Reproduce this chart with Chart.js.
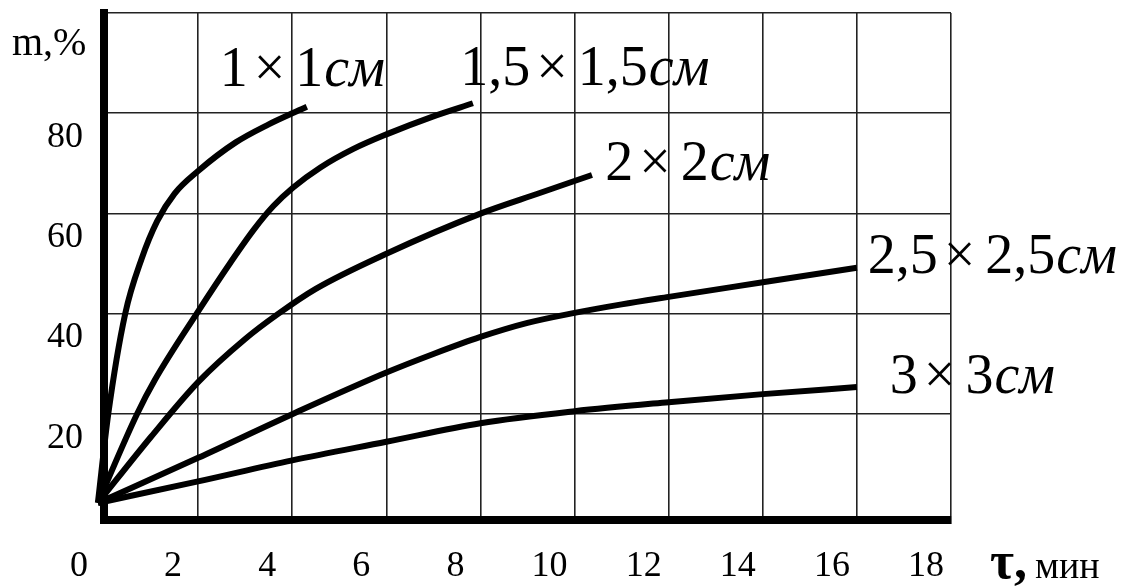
<!DOCTYPE html>
<html>
<head>
<meta charset="utf-8">
<script src="https://cdn.jsdelivr.net/npm/chart.js@4.4.1/dist/chart.umd.min.js"></script>
<style>
  html, body { margin: 0; padding: 0; background: #fff; }
  canvas { display: block; }
</style>
</head>
<body>
<canvas id="chart" width="1126" height="588"></canvas>
<script>
// Edge length of each cube-shaped sample, cm
const sampleSizes = ['1', '1,5', '2', '2,5', '3'];

// Time τ, min, and mass loss m, % for every sample size
const time1 = [-0.13, 0.09, 0.45, 0.8, 1.13, 1.5, 2.0, 2.8, 3.5, 4.0, 4.31];
const mass1 = [2.3, 20.0, 40.0, 51.0, 58.5, 64.0, 68.5, 74.2, 77.8, 80.0, 81.3];

const time15 = [-0.13, 0.70, 1.08, 1.98, 2.7, 3.2, 3.6, 4.02, 4.6, 5.3, 6.0, 7.0, 7.84];
const mass15 = [2.3, 20.0, 26.8, 40.2, 50.4, 57.0, 61.5, 65.2, 69.2, 72.9, 75.8, 79.4, 82.0];

const time2 = [-0.13, 1.0, 2.0, 3.0, 3.7, 4.5, 6.0, 8.0, 9.26, 10.37];
const mass2 = [2.3, 15.5, 26.4, 35.0, 40.0, 45.0, 52.0, 60.0, 64.1, 67.7];

const time25 = [-0.13, 2.0, 4.0, 6.0, 7.0, 8.0, 9.0, 10.0, 11.0, 12.0, 14.0, 16.0];
const mass25 = [2.3, 11.3, 20.0, 28.3, 32.0, 35.4, 38.2, 40.2, 41.9, 43.4, 46.3, 49.2];

const time3 = [-0.13, 2.0, 4.0, 6.0, 8.0, 10.0, 12.0, 14.0, 16.0];
const mass3 = [2.3, 6.6, 10.8, 14.5, 18.2, 20.6, 22.4, 24.0, 25.4];

// Axis ticks
const xTicks = [0, 2, 4, 6, 8, 10, 12, 14, 16, 18];
const yTicks = [20, 40, 60, 80, 100];

const seriesTimes = [time1, time15, time2, time25, time3];
const seriesMass = [mass1, mass15, mass2, mass25, mass3];

// Where each curve caption starts (left edge, baseline), in axis units
const captionAnchors = [
  { x: 2.46, y: 85.4 },
  { x: 7.57, y: 85.6 },
  { x: 10.65, y: 66.7 },
  { x: 16.23, y: 48.2 },
  { x: 16.70, y: 24.2 }
];

const SERIF = '"Liberation Serif", "Times New Roman", serif';

const datasets = sampleSizes.map((s, i) => ({
  label: s + '×' + s + 'см',
  data: seriesTimes[i].map((t, k) => ({ x: t, y: seriesMass[i][k] })),
  borderColor: '#000',
  borderWidth: 6,
  pointRadius: 0,
  pointHoverRadius: 0,
  fill: false,
  cubicInterpolationMode: 'monotone',
  borderJoinStyle: 'round',
  clip: false
}));

// Captions "a × a см" next to each curve, plus the axis names
const captionsPlugin = {
  id: 'captions',
  afterDatasetsDraw(chart) {
    const { ctx, scales: { x, y }, chartArea } = chart;
    ctx.save();
    ctx.fillStyle = '#000';
    ctx.textBaseline = 'alphabetic';
    ctx.textAlign = 'left';

    const size = 56;
    const upright = size + 'px ' + SERIF;
    const italic = 'italic ' + size + 'px ' + SERIF;
    sampleSizes.forEach((s, i) => {
      let px = x.getPixelForValue(captionAnchors[i].x);
      const py = y.getPixelForValue(captionAnchors[i].y);
      ctx.font = upright;
      ctx.fillText(s, px, py);
      px += ctx.measureText(s).width + 6;
      ctx.fillText('×', px, py);
      px += ctx.measureText('×').width + 10;
      ctx.fillText(s, px, py);
      px += ctx.measureText(s).width + 1;
      ctx.font = italic;
      ctx.fillText('см', px, py);
    });

    // y axis name
    ctx.font = '40px ' + SERIF;
    ctx.fillText('m,%', chartArea.left - 92, chartArea.top + 42);

    // x axis name
    let tx = chartArea.right + 39;
    const ty = chartArea.bottom + 58;
    ctx.font = 'bold 52px ' + SERIF;
    ctx.fillText('τ,', tx, ty);
    tx += ctx.measureText('τ,').width + 8;
    ctx.font = '38px ' + SERIF;
    ctx.fillText('мин', tx, ty);

    // close the corner where the two heavy axis lines meet
    ctx.fillRect(chartArea.left - 4, chartArea.bottom - 4, 8, 8);
    ctx.restore();
  }
};

new Chart(document.getElementById('chart'), {
  type: 'line',
  data: { datasets },
  options: {
    responsive: false,
    devicePixelRatio: 1,
    animation: false,
    events: [],
    layout: { padding: { top: 13, right: 175, bottom: 0, left: 0 } },
    plugins: { legend: { display: false }, tooltip: { enabled: false } },
    scales: {
      x: {
        type: 'linear',
        min: 0,
        max: 18,
        afterBuildTicks: (scale) => { scale.ticks = xTicks.map(v => ({ value: v })); },
        afterFit: (scale) => {
          scale.height = 68;
          scale.paddingLeft = 0;
          scale.paddingRight = 0;
        },
        grid: { color: '#222', lineWidth: 1.6, drawTicks: false },
        border: { color: '#000', width: 8 },
        ticks: {
          color: '#000',
          font: { family: SERIF, size: 36 },
          labelOffset: -25,
          padding: 25,
          maxRotation: 0,
          autoSkip: false
        }
      },
      y: {
        type: 'linear',
        min: -1.1,
        max: 100,
        afterBuildTicks: (scale) => { scale.ticks = yTicks.map(v => ({ value: v })); },
        afterFit: (scale) => {
          scale.width = 104;
          scale.paddingTop = 0;
          scale.paddingBottom = 0;
        },
        grid: { color: '#222', lineWidth: 1.6, drawTicks: false },
        border: { color: '#000', width: 8 },
        ticks: {
          color: '#000',
          font: { family: SERIF, size: 36 },
          labelOffset: 24,
          padding: 21,
          autoSkip: false,
          callback: (v) => (v === 100 ? '' : String(v))
        }
      }
    }
  },
  plugins: [captionsPlugin]
});
</script>
</body>
</html>
